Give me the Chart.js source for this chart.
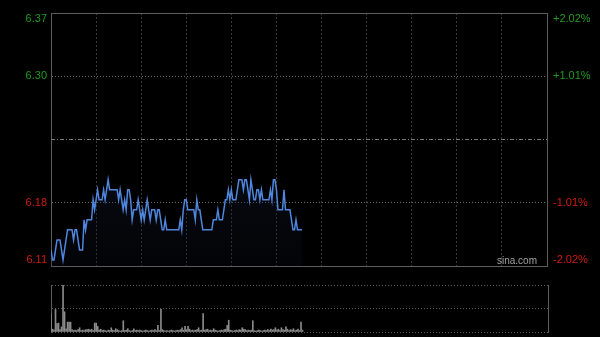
<!DOCTYPE html>
<html><head><meta charset="utf-8">
<script src="https://cdn.jsdelivr.net/npm/chart.js@4"></script>
<style>
html,body{margin:0;padding:0;background:#000;width:600px;height:337px;overflow:hidden}
canvas{position:absolute;left:0}
#c1{top:0}
#c2{top:275px}
</style></head><body>
<canvas id="c1" width="600" height="275"></canvas>
<canvas id="c2" width="600" height="62"></canvas>
<script>
const prevClose = 6.24;
const priceMin = 6.114, priceMax = 6.366;
const pctMin = -2.02, pctMax = 2.02;
const minutesTotal = 330;
const priceTicks = [6.114, 6.177, 6.24, 6.303, 6.366];
const priceTickLabels = ['6.11', '6.18', '', '6.30', '6.37'];
const pctTicks = [-2.02, -1.01, 0, 1.01, 2.02];
const pctTickLabels = ['-2.02%', '-1.01%', '', '+1.01%', '+2.02%'];
const volMax = 100;
const volTicks = [0, 50, 100];

const prices = [
 6.13,6.12,6.12,6.13,6.14,6.14,6.14,6.13,6.12,6.13,
 6.14,6.15,6.15,6.15,6.15,6.14,6.15,6.15,6.14,6.13,
 6.13,6.13,6.16,6.15,6.16,6.16,6.16,6.16,6.18,6.17,
 6.18,6.19,6.18,6.18,6.18,6.19,6.18,6.19,6.20,6.19,
 6.19,6.19,6.19,6.19,6.19,6.18,6.19,6.18,6.17,6.18,
 6.17,6.19,6.19,6.18,6.16,6.17,6.17,6.17,6.18,6.17,
 6.16,6.17,6.16,6.17,6.18,6.17,6.16,6.17,6.17,6.17,
 6.16,6.17,6.17,6.16,6.15,6.15,6.16,6.15,6.15,6.15,
 6.15,6.15,6.15,6.15,6.15,6.15,6.16,6.15,6.17,6.18,
 6.18,6.17,6.17,6.17,6.17,6.17,6.16,6.18,6.17,6.17,
 6.16,6.15,6.15,6.15,6.15,6.15,6.15,6.15,6.16,6.16,
 6.16,6.17,6.16,6.16,6.16,6.17,6.18,6.18,6.19,6.18,
 6.19,6.18,6.18,6.18,6.19,6.20,6.20,6.20,6.19,6.20,
 6.20,6.19,6.18,6.20,6.19,6.18,6.18,6.19,6.19,6.18,
 6.19,6.18,6.18,6.18,6.18,6.18,6.19,6.18,6.20,6.20,
 6.19,6.17,6.17,6.17,6.17,6.19,6.17,6.17,6.17,6.17,
 6.16,6.15,6.15,6.16,6.15,6.15,6.15,6.15
];

const volumes = [
 39,6,4,48,18,19,5,11,100,43,
 7,21,21,21,5,3,4,3,5,9,
 3,4,3,5,5,6,4,6,3,19,
 19,12,4,6,3,4,3,2,4,3,
 9,4,3,7,5,3,2,3,24,3,
 4,7,3,2,3,7,3,4,3,4,
 3,2,3,4,3,2,3,4,3,5,
 3,14,3,48,5,3,2,3,2,3,
 4,3,2,3,4,3,5,9,4,12,
 5,12,6,3,4,3,4,5,9,3,
 4,39,4,5,6,3,4,3,7,4,
 3,2,3,4,3,5,6,14,25,4,
 3,2,3,4,3,5,4,9,6,5,
 3,4,3,4,24,3,2,3,4,3,
 2,3,4,3,5,3,6,4,5,9,
 4,6,3,9,5,4,11,6,3,5,
 4,7,3,4,6,3,21,4
];

const FONT_CSS = "11px 'Liberation Sans', Arial, Helvetica, sans-serif";
const upColor = '#1f9c1f', downColor = '#d01c12';
const frameColor = '#5c5c5c';
const clear = 'rgba(0,0,0,0)';
function fixW(w){ return s => { s.width = w; }; }
function fixH(h){ return s => { s.height = h; }; }

const midLine = {
  id: 'midLine',
  beforeDatasetsDraw(chart){
    const {ctx, chartArea: a, scales: {y}} = chart;
    const py = Math.round(y.getPixelForValue(prevClose)) + 0.5;
    ctx.save();
    ctx.strokeStyle = '#7a7a7a'; ctx.lineWidth = 1; ctx.setLineDash([4,2,1,2]);
    ctx.beginPath(); ctx.moveTo(a.left, py); ctx.lineTo(a.right, py); ctx.stroke();
    ctx.restore();
  }
};

// Tick labels: positioned from the scales; the outermost labels sit just inside the frame.
const tickLabels = {
  id: 'tickLabels',
  afterDraw(chart){
    const {ctx, chartArea: a, scales: {y, yPct}} = chart;
    ctx.save();
    ctx.font = FONT_CSS;
    ctx.textBaseline = 'middle';
    const n = priceTicks.length;
    const edgeShift = (i) => i === 0 ? -6 : (i === n - 1 ? 6 : 0);
    priceTicks.forEach((v, i) => {
      const t = priceTickLabels[i];
      if (!t) return;
      ctx.fillStyle = v > prevClose ? upColor : downColor;
      ctx.textAlign = 'right';
      ctx.fillText(t, a.left - 4, y.getPixelForValue(v) + edgeShift(i));
    });
    pctTicks.forEach((v, i) => {
      const t = pctTickLabels[i];
      if (!t) return;
      ctx.fillStyle = v > 0 ? upColor : downColor;
      ctx.textAlign = 'left';
      ctx.fillText(t, a.right + 6, yPct.getPixelForValue(v) + edgeShift(i));
    });
    ctx.restore();
  }
};

const watermark = {
  id: 'wm',
  afterDatasetsDraw(chart){
    const {ctx, chartArea: a} = chart;
    ctx.save();
    ctx.font = "10px 'Liberation Sans', Arial, sans-serif";
    ctx.fillStyle = '#a0a0a0';
    ctx.textAlign = 'right'; ctx.textBaseline = 'alphabetic';
    ctx.fillText('sina.com', a.right - 10, a.bottom - 2);
    ctx.restore();
  }
};

new Chart(document.getElementById('c1'), {
  type: 'line',
  data: {datasets: [{
    data: prices.map((p, i) => ({x: i, y: p})),
    borderColor: '#4f86de', borderWidth: 1.5, pointRadius: 0, tension: 0,
    fill: 'start',
    backgroundColor: (c) => {
      const ch = c.chart, a = ch.chartArea;
      if (!a) return 'rgba(20,30,50,0.3)';
      const g = ch.ctx.createLinearGradient(0, a.top, 0, a.bottom);
      g.addColorStop(0, 'rgba(45,65,110,0.45)');
      g.addColorStop(1, 'rgba(10,15,28,0.25)');
      return g;
    },
    xAxisID: 'x', yAxisID: 'y'
  }]},
  options: {
    responsive: false, animation: false, devicePixelRatio: 1,
    layout: {padding: {top: 13, bottom: 9, left: 0, right: 0}},
    plugins: {legend: {display: false}, tooltip: {enabled: false}},
    scales: {
      x: {type: 'linear', position: 'bottom', min: 0, max: minutesTotal, afterFit: fixH(0),
          ticks: {display: false, stepSize: 30, maxTicksLimit: 20},
          grid: {drawTicks: false, color: (c) => (c.tick.value === 0 || c.tick.value === minutesTotal) ? clear : '#3a3a3a'},
          border: {display: true, color: frameColor, dash: [2,2]}},
      xTop: {type: 'linear', position: 'top', min: 0, max: minutesTotal, afterFit: fixH(0),
          ticks: {display: false}, grid: {display: false, drawTicks: false},
          border: {display: true, color: frameColor}},
      y: {position: 'left', min: priceMin, max: priceMax, afterFit: fixW(51),
          afterBuildTicks: s => { s.ticks = priceTicks.map(v => ({value: v})); },
          ticks: {display: false},
          grid: {drawTicks: false, color: (c) => (c.index === 1 || c.index === 3) ? '#6a6a6a' : clear},
          border: {display: true, color: frameColor, dash: [1,2]}},
      yPct: {position: 'right', min: pctMin, max: pctMax, afterFit: fixW(53),
          afterBuildTicks: s => { s.ticks = pctTicks.map(v => ({value: v})); },
          ticks: {display: false},
          grid: {display: false, drawTicks: false},
          border: {display: true, color: frameColor}}
    }
  },
  plugins: [midLine, tickLabels, watermark]
});

new Chart(document.getElementById('c2'), {
  type: 'bar',
  data: {datasets: [{
    data: volumes.map((v, i) => ({x: i, y: v})),
    backgroundColor: '#8a8a8a', barThickness: 1, xAxisID: 'x', yAxisID: 'y'
  }]},
  options: {
    responsive: false, animation: false, devicePixelRatio: 1,
    layout: {padding: {top: 10, bottom: 5, left: 0, right: 0}},
    plugins: {legend: {display: false}, tooltip: {enabled: false}},
    scales: {
      x: {type: 'linear', min: 0, max: minutesTotal, offset: false, display: false},
      y: {position: 'left', min: 0, max: volMax, afterFit: fixW(51),
          afterBuildTicks: s => { s.ticks = volTicks.map(v => ({value: v})); },
          ticks: {display: false},
          grid: {drawTicks: false, color: '#5a5a5a'},
          border: {display: true, color: frameColor, dash: [1,2]}},
      y2: {position: 'right', min: 0, max: volMax, afterFit: fixW(52),
          ticks: {display: false}, grid: {display: false, drawTicks: false},
          border: {display: true, color: frameColor}}
    }
  }
});
</script>
</body></html>
